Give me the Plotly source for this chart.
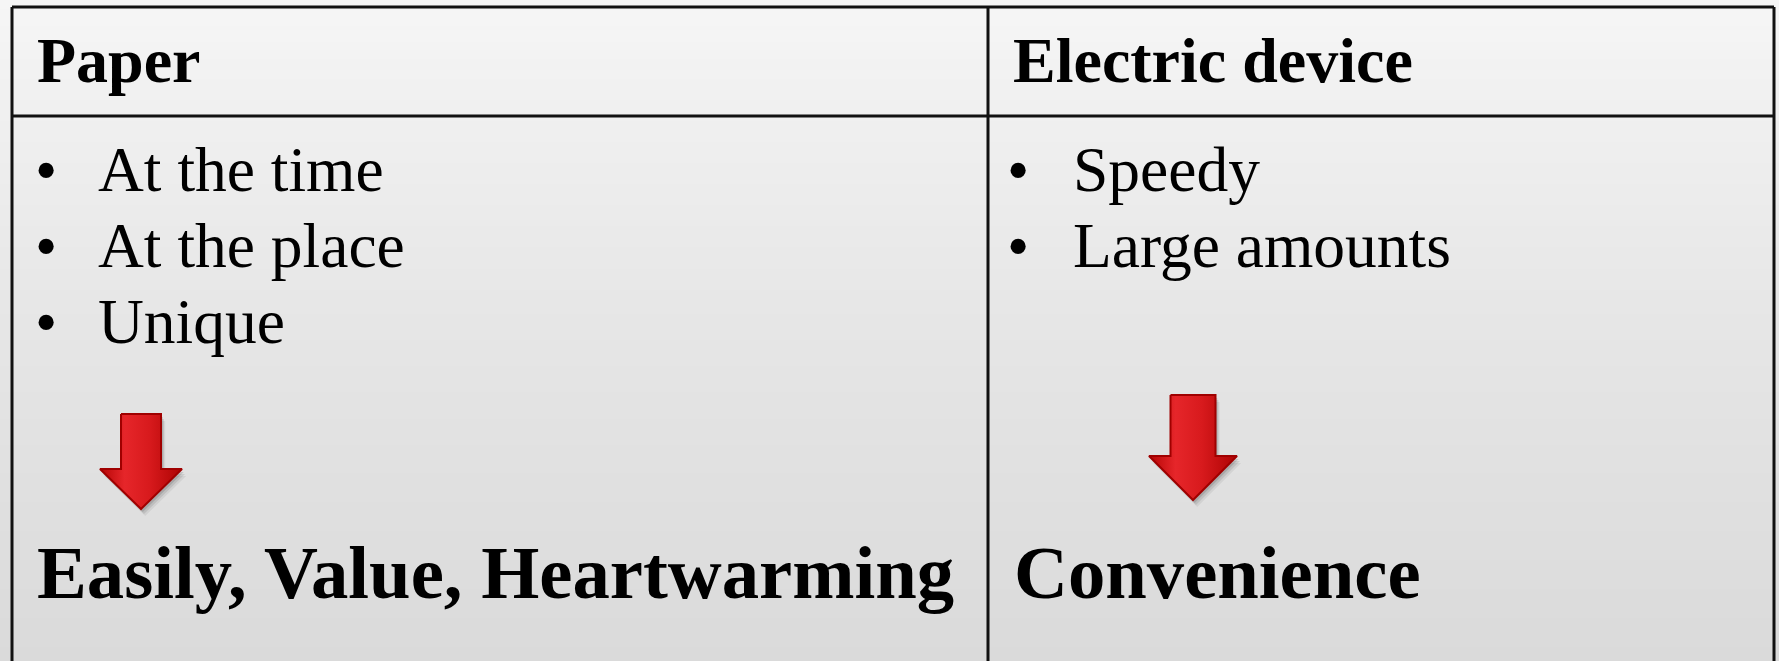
import plotly.graph_objects as go

W, H = 1779, 661

# ---- content ----
headers = ["Paper", "Electric device"]
left_items = ["At the time", "At the place", "Unique"]
right_items = ["Speedy", "Large amounts"]
conclusions = ["Easily, Value, Heartwarming", "Convenience"]

# background gradient levels (top -> bottom)
bg_rows = [0, 60, 160, 300, 450, 661]
bg_levels = [0.0, 0.12, 0.28, 0.5, 0.72, 1.0]

FONT = "Liberation Serif, Times New Roman, serif"
S_HEAD = 64
S_TXT = 63.5
S_BIG = 74.7


def center_from_baseline(b, s):
    return b - 0.3375 * s


fig = go.Figure()

# background
fig.add_trace(go.Heatmap(
    x=[0, W], y=bg_rows, z=[[v, v] for v in bg_levels],
    colorscale=[[0, "#f6f6f6"], [0.5, "#e7e7e7"], [1, "#dadada"]],
    zsmooth="best", showscale=False, hoverinfo="skip"))


def arrow(cx, top, shaft_w, head_y, head_w, tip_y):
    xs = [cx - shaft_w / 2, cx + shaft_w / 2, cx + shaft_w / 2, cx + head_w / 2, cx,
          cx - head_w / 2, cx - shaft_w / 2, cx - shaft_w / 2]
    ys = [top, top, head_y, head_y, tip_y, head_y, head_y, top]
    return xs, ys


arrows = [dict(cx=141, top=414, shaft_w=40, head_y=469, head_w=82, tip_y=509),
          dict(cx=1193, top=395, shaft_w=45, head_y=456, head_w=88, tip_y=500)]

for a in arrows:
    xs, ys = arrow(**a)
    for off, alpha in [(7, 0.06), (5, 0.09), (3, 0.12)]:
        fig.add_trace(go.Scatter(x=[x + off * 0.6 for x in xs], y=[y + off for y in ys],
                                 mode="lines", fill="toself", line=dict(width=0),
                                 fillcolor=f"rgba(0,0,0,{alpha})", hoverinfo="skip",
                                 showlegend=False))
    fig.add_trace(go.Scatter(x=xs, y=ys, mode="lines", fill="toself",
                             line=dict(color="#a00000", width=2),
                             fillgradient=dict(type="horizontal",
                                               colorscale=[[0, "#b50505"], [0.3, "#e6262a"],
                                                           [0.6, "#d81a1d"], [1, "#ad0303"]]),
                             hoverinfo="skip", showlegend=False))

ann = []


def add_text(x, y, text, size, bold=False):
    ann.append(dict(x=x, y=y, xref="x", yref="y", xanchor="left", yanchor="middle",
                    text=f"<b>{text}</b>" if bold else text, showarrow=False,
                    borderpad=0, borderwidth=0,
                    font=dict(family=FONT, size=size, color="#000000")))


header_x = [37, 1013]
bullet_x = [35, 1007]
item_x = [98, 1073]
item_base = [191, 267, 342.5]

for i, h in enumerate(headers):
    add_text(header_x[i], center_from_baseline(82, S_HEAD), h, S_HEAD, bold=True)

for col, items in enumerate([left_items, right_items]):
    for j, t in enumerate(items):
        yc = center_from_baseline(item_base[j], S_TXT)
        add_text(bullet_x[col], yc, "•", S_TXT)
        add_text(item_x[col], yc, t, S_TXT)

concl_x = [37, 1014]
for i, c in enumerate(conclusions):
    add_text(concl_x[i], center_from_baseline(597.5, S_BIG), c, S_BIG, bold=True)

# table lines
LC = "#111111"
LW = 3
shapes = [
    dict(type="line", x0=12, x1=1774, y0=7, y1=7),
    dict(type="line", x0=12, x1=1774, y0=116, y1=116),
    dict(type="line", x0=12, x1=12, y0=7, y1=H + 5),
    dict(type="line", x0=988, x1=988, y0=7, y1=H + 5),
    dict(type="line", x0=1774, x1=1774, y0=7, y1=H + 5),
]
for s in shapes:
    s.update(xref="x", yref="y", line=dict(color=LC, width=LW), layer="above")

fig.update_layout(
    width=W, height=H, margin=dict(l=0, r=0, t=0, b=0),
    paper_bgcolor="#f6f6f6", plot_bgcolor="#f6f6f6",
    xaxis=dict(range=[0, W], visible=False, fixedrange=True),
    yaxis=dict(range=[H, 0], visible=False, fixedrange=True),
    annotations=ann, shapes=shapes, showlegend=False, hovermode=False,
)

fig.write_html("out.html", config={"displayModeBar": False},
               post_script="document.body.style.margin='0';document.body.style.overflow='hidden';")
